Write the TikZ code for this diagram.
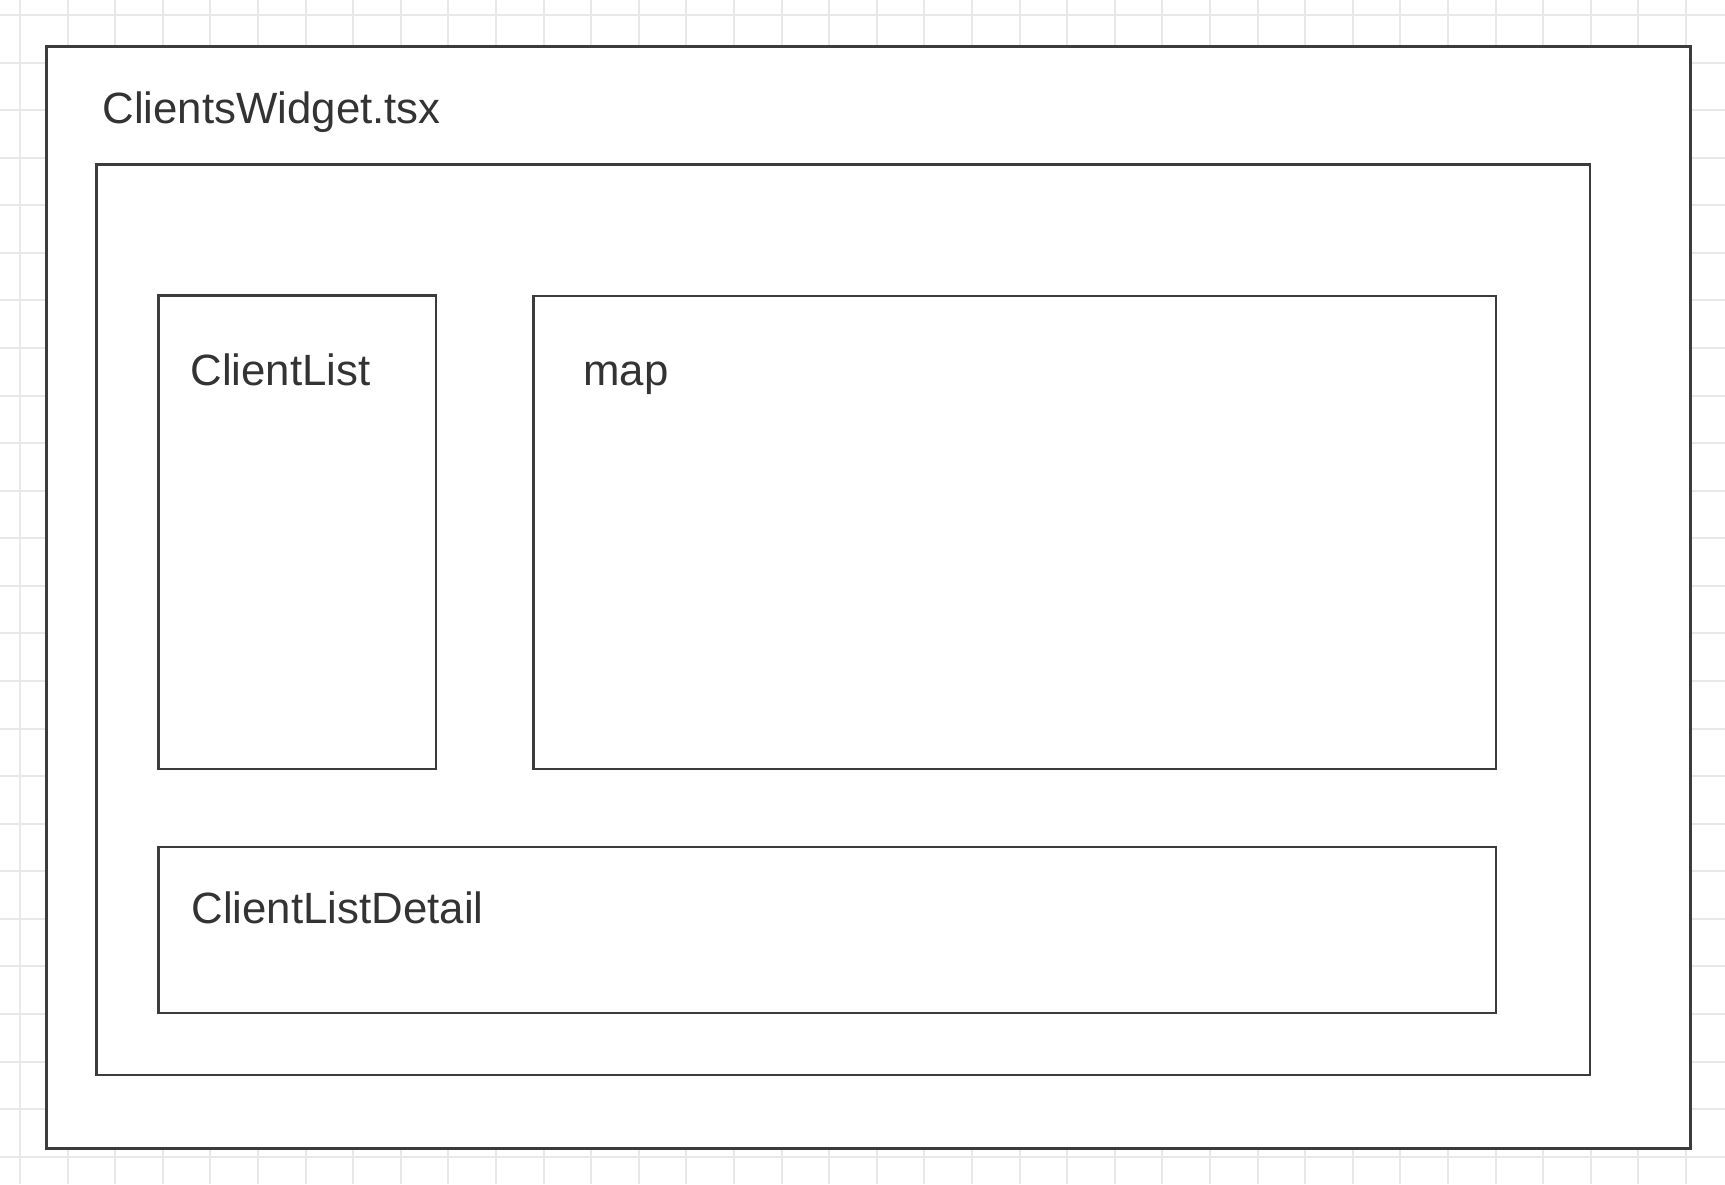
\documentclass[tikz,border=0pt]{standalone}
\usepackage{fontspec}
\setmainfont{Liberation Sans}
\usepackage{tikz}
\usetikzlibrary{positioning}
\definecolor{linegray}{HTML}{3C3C3C}
\definecolor{textgray}{HTML}{333333}
\tikzset{
    % grid in the background
    gridline/.style={
           draw=black!9,
           line width=1pt},
    % style for the frames
    frame/.style={
           draw=linegray,
           line width=1.3pt,
           fill=white},
    outerframe/.style={
           frame,
           line width=1.5pt},
    % style for the labels
    lbl/.style={
           anchor=base west,
           inner sep=0pt,
           text=textgray,
           font=\fontsize{21.9}{26}\selectfont}
}
\begin{document}
\begin{tikzpicture}[x=0.5pt,y=-0.5pt]
\useasboundingbox (0,0) rectangle (1725,1184);
 %grid
\foreach \i in {0,...,35}
    \draw[gridline] (20+47.6*\i,0) -- (20+47.6*\i,1184);
\foreach \j in {0,...,24}
    \draw[gridline] (0,15+47.57*\j) -- (1725,15+47.57*\j);
 %frames
\draw[outerframe] (46.7,46.7) rectangle (1690,1148.3);
\draw[frame] (96.7,164.3) rectangle (1590,1075);
\draw[frame] (158.3,295.7) rectangle (436,769);
\draw[frame] (533.5,296) rectangle (1496,769);
\draw[frame] (158.4,847) rectangle (1496,1013);
 %labels
\node[lbl] (widget) at (102,123) {ClientsWidget.tsx};
\node[lbl] (list) at (190,385) {ClientList};
\node[lbl] (map) at (583,385) {map};
\node[lbl] (detail) at (191,923) {ClientListDetail};
\end{tikzpicture}
\end{document}
